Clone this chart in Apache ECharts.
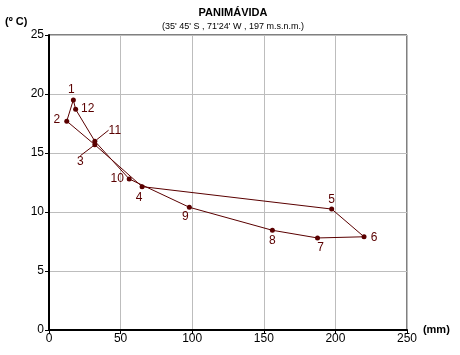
<!DOCTYPE html>
<html><head><meta charset="utf-8">
<script src="https://cdn.jsdelivr.net/npm/echarts@6/dist/echarts.min.js"></script>
<style>html,body{margin:0;padding:0;background:#fff}#c{width:460px;height:355px}</style>
</head><body><div id="c"></div>
<script>
const months = ['1','2','3','4','5','6','7','8','9','10','11','12'];
const precipitation = [17, 12.4, 32, 65, 197.4, 220, 187.5, 156, 98, 56, 32, 18.6];
const temperature = [19.5, 17.7, 15.7, 12.15, 10.25, 7.9, 7.8, 8.45, 10.4, 12.8, 16.0, 18.7];
const xTicks = [0, 50, 100, 150, 200, 250];
const yTicks = [0, 5, 10, 15, 20, 25];

// label placement (style): shift of each month label from its point, px
const labelShift = [[-2,-10],[-10,-1],[-14.5,17],[-3,11],[0,-9],[10,1],[3,10],[0,10],[-4,9],[-12,0],[20,-11],[12,-1]];
const leaderMonths = ['3','11'];

const FONT = "'Liberation Sans', Arial, sans-serif";
const MAROON = '#5a0000';

const loopData = months.map((m, i) => ({
  name: m,
  value: [precipitation[i], temperature[i]],
  labelLine: { show: leaderMonths.includes(m) }
}));
loopData.push({ name: '', value: [precipitation[0], temperature[0]], symbol: 'none', label: { show: false } });

const chart = echarts.init(document.getElementById('c'), null, { renderer: 'canvas' });
chart.setOption({
  animation: false,
  backgroundColor: '#fff',
  textStyle: { fontFamily: FONT },
  title: [
    { text: 'PANIMÁVIDA', left: 228, top: 2, textAlign: 'center',
      textStyle: { fontSize: 11, fontWeight: 'bold', color: '#000', fontFamily: FONT } },
    { text: "(35' 45' S , 71'24' W , 197 m.s.n.m.)", left: 228, top: 17, textAlign: 'center',
      textStyle: { fontSize: 9, fontWeight: 'normal', color: '#000', fontFamily: FONT } }
  ],
  graphic: [
    { type: 'text', left: 5, top: 16,
      style: { text: '(º C)', font: "bold 11px " + FONT, fill: '#000' } }
  ],
  grid: { left: 49, right: 53, top: 35, bottom: 25, show: true, borderColor: '#000', borderWidth: 1, backgroundColor: 'transparent' },
  xAxis: {
    type: 'value', min: xTicks[0], max: xTicks[xTicks.length - 1], interval: xTicks[1] - xTicks[0],
    name: '(mm)', nameLocation: 'end', nameGap: 13,
    nameTextStyle: { fontSize: 11, fontWeight: 'bold', color: '#000', fontFamily: FONT, verticalAlign: 'middle', padding: [0,0,3,0] },
    axisLine: { show: true, onZero: false, lineStyle: { color: '#000', width: 2 } },
    axisTick: { show: true, length: 4, lineStyle: { color: '#000' } },
    axisLabel: { fontSize: 12, color: '#000', margin: 3, fontFamily: FONT },
    splitLine: { show: true, lineStyle: { color: '#bdbdbd', width: 1 } }
  },
  yAxis: {
    type: 'value', min: yTicks[0], max: yTicks[yTicks.length - 1], interval: yTicks[1] - yTicks[0],
    axisLine: { show: true, onZero: false, lineStyle: { color: '#000', width: 2 } },
    axisTick: { show: true, length: 4, lineStyle: { color: '#000' } },
    axisLabel: { fontSize: 12, color: '#000', margin: 5, fontFamily: FONT },
    splitLine: { show: true, lineStyle: { color: '#bdbdbd', width: 1 } }
  },
  series: [{
    type: 'line',
    data: loopData,
    symbol: 'circle',
    symbolSize: 5,
    lineStyle: { color: MAROON, width: 1 },
    itemStyle: { color: MAROON },
    label: { show: true, position: 'inside', formatter: p => p.name, fontSize: 12, color: MAROON, fontFamily: FONT },
    labelLine: { show: false, lineStyle: { color: MAROON, width: 1 }, smooth: false },
    labelLayout: p => {
      const s = labelShift[p.dataIndex];
      return s ? { dx: s[0], dy: s[1] } : {};
    },
    z: 5
  }]
});
</script></body></html>
